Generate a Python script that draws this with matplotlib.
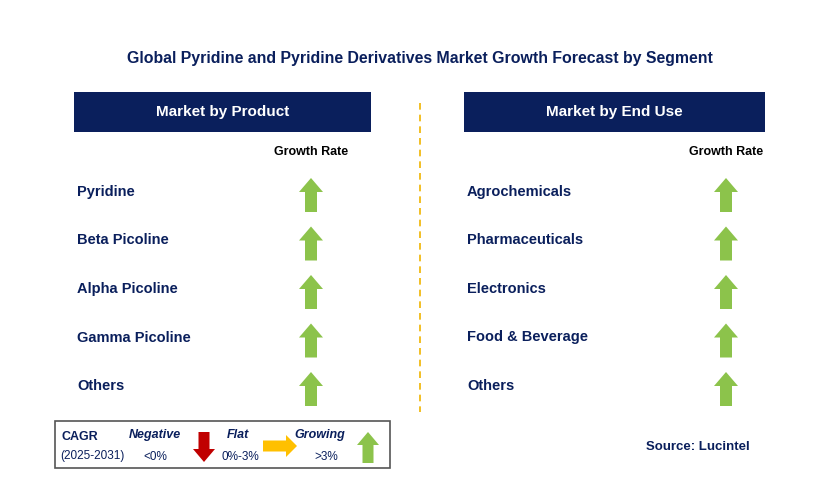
import matplotlib

matplotlib.use("Agg")
import matplotlib.pyplot as plt
from matplotlib.patches import Polygon, Rectangle

TITLE = "Global Pyridine and Pyridine Derivatives Market Growth Forecast by Segment"
PRODUCTS = ["Pyridine", "Beta Picoline", "Alpha Picoline", "Gamma Picoline", "Others"]
PRODUCT_TREND = ["up", "up", "up", "up", "up"]
END_USES = ["Agrochemicals", "Pharmaceuticals", "Electronics", "Food & Beverage", "Others"]
END_USE_TREND = ["up", "up", "up", "up", "up"]

NAVY = "#0a1f5c"
GREEN = "#8cc34b"
RED = "#c00000"
AMBER = "#ffc000"


def up_arrow(ax, cx, top, bottom, color=GREEN, w=24, sw=12, hh=14):
    pts = [(cx, top), (cx + w / 2, top + hh), (cx + sw / 2, top + hh), (cx + sw / 2, bottom),
           (cx - sw / 2, bottom), (cx - sw / 2, top + hh), (cx - w / 2, top + hh)]
    ax.add_patch(Polygon(pts, closed=True, color=color, lw=0))


def down_arrow(ax, cx, top, bottom, color=RED, w=22, sw=11, hh=13):
    pts = [(cx, bottom), (cx + w / 2, bottom - hh), (cx + sw / 2, bottom - hh), (cx + sw / 2, top),
           (cx - sw / 2, top), (cx - sw / 2, bottom - hh), (cx - w / 2, bottom - hh)]
    ax.add_patch(Polygon(pts, closed=True, color=color, lw=0))


def right_arrow(ax, left, right, cy, color=AMBER, h=22, sh=11, hw=11):
    pts = [(right, cy), (right - hw, cy - h / 2), (right - hw, cy - sh / 2), (left, cy - sh / 2),
           (left, cy + sh / 2), (right - hw, cy + sh / 2), (right - hw, cy + h / 2)]
    ax.add_patch(Polygon(pts, closed=True, color=color, lw=0))


fig = plt.figure(figsize=(8.29, 4.96), dpi=100)
ax = fig.add_axes([0, 0, 1, 1])
ax.set_xlim(0, 829)
ax.set_ylim(496, 0)
ax.axis("off")

ax.text(420, 58, TITLE, ha="center", va="center", fontsize=11.4, fontweight="bold", color=NAVY,
        family="Liberation Sans")


def panel(x0, x1, header, names, trends, arrow_x):
    ax.add_patch(Rectangle((x0, 92), x1 - x0, 40, color=NAVY, lw=0))
    ax.text((x0 + x1) / 2, 112, header, ha="center", va="center", fontsize=11, fontweight="bold",
            color="white", family="Liberation Sans")
    ax.text(arrow_x, 152, "Growth Rate", ha="center", va="center", fontsize=9, fontweight="bold",
            color="black", family="Liberation Sans")
    for i, (name, trend) in enumerate(zip(names, trends)):
        y = 192 + i * 48.5
        ax.text(x0 + 3, y, name, ha="left", va="center", fontsize=10.5, fontweight="bold",
                color=NAVY, family="Liberation Sans")
        if trend == "up":
            up_arrow(ax, arrow_x, y - 14, y + 20)


panel(74, 371, "Market by Product", PRODUCTS, PRODUCT_TREND, 311)
panel(464, 765, "Market by End Use", END_USES, END_USE_TREND, 726)

ax.plot([420, 420], [103, 412], ls=(0, (4, 3)), color="#f0b400", lw=1.2)

# legend box
ax.add_patch(Rectangle((55, 421), 335, 47, fill=False, ec="#555555", lw=1.2))
ax.text(62, 437, "CAGR", fontsize=9, fontweight="bold", color=NAVY, va="center", family="Liberation Sans")
ax.text(60, 456, "(2025-2031)", fontsize=8.5, color=NAVY, va="center", family="Liberation Sans")
ax.text(155, 435, "Negative", fontsize=9, fontweight="bold", style="italic", color=NAVY, ha="center",
        va="center", family="Liberation Sans")
ax.text(155, 457, "<0%", fontsize=8.5, color=NAVY, ha="center", va="center", family="Liberation Sans")
down_arrow(ax, 204, 432, 462, color=RED)
ax.text(238, 435, "Flat", fontsize=9, fontweight="bold", style="italic", color=NAVY, ha="center",
        va="center", family="Liberation Sans")
ax.text(240, 457, "0%-3%", fontsize=8.5, color=NAVY, ha="center", va="center", family="Liberation Sans")
right_arrow(ax, 263, 297, 446)
ax.text(320, 435, "Growing", fontsize=9, fontweight="bold", style="italic", color=NAVY, ha="center",
        va="center", family="Liberation Sans")
ax.text(326, 457, ">3%", fontsize=8.5, color=NAVY, ha="center", va="center", family="Liberation Sans")
up_arrow(ax, 368, 432, 463, w=22, sw=11, hh=13)

ax.text(750, 447, "Source: Lucintel", ha="right", va="center", fontsize=9.5, fontweight="bold",
        color=NAVY, family="Liberation Sans")

fig.savefig("out.png", dpi=100)
